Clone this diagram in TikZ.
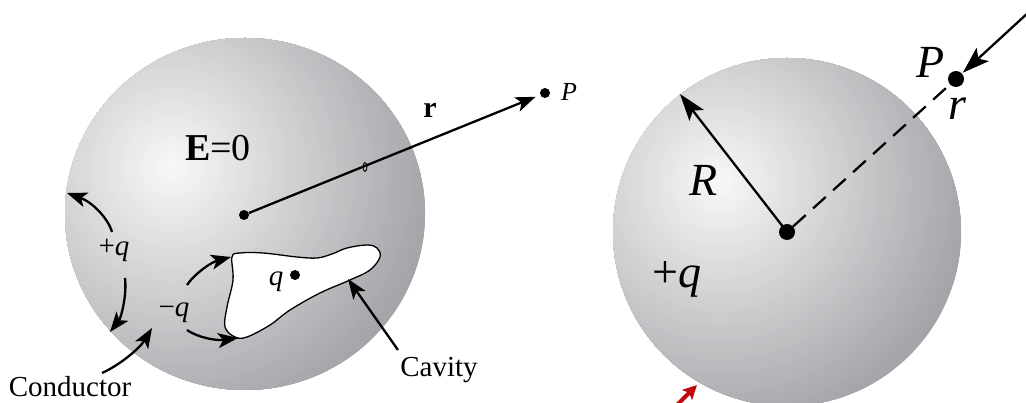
\documentclass[tikz,border=0pt]{standalone}
\usepackage{fontspec}
\setmainfont{Liberation Serif}
\usetikzlibrary{arrows.meta}
\definecolor{redarrow}{RGB}{190,10,10}
\tikzset{
  lab/.style={inner sep=0pt, font=\fontsize{29}{29}\selectfont},
  biglab/.style={inner sep=0pt, font=\fontsize{46}{46}\selectfont},
  arr/.style={line width=2.3pt, -{Stealth[length=20pt,width=15pt,inset=5pt]}},
  bigarr/.style={line width=2.3pt, -{Stealth[length=27pt,width=18pt,inset=6pt]}},
  dotS/.style={circle, fill=black, inner sep=0pt, minimum size=10pt},
  dotL/.style={circle, fill=black, inner sep=0pt, minimum size=16pt},
}
% manual radial gradient: #1 highlight point, #2 max distance
\newcommand{\myspheregrad}[2]{%
  \foreach \i in {0,...,70}{%
    \pgfmathsetmacro{\tt}{1-\i/70}%
    \pgfmathsetmacro{\dd}{#2*\tt}%
    \pgfmathsetmacro{\gg}{int(249-86*\tt)}%
    \pgfmathsetmacro{\bb}{int(249-81*\tt)}%
    \definecolor{tmpc}{RGB}{\gg,\gg,\bb}%
    \fill[tmpc] #1 circle [radius=\dd];%
  }%
}
\begin{document}
\begin{tikzpicture}[x=1pt,y=-1pt]
\useasboundingbox (0,0) rectangle (1026,403);
\clip (0,0) rectangle (1026,403);
% ---------- left sphere ----------
\begin{scope}
\clip (245,214) ellipse [x radius=180, y radius=176];
\myspheregrad{(172,167)}{268}
\end{scope}
% cavity
\draw[fill=white, line width=1.3pt] plot[smooth cycle, tension=0.6] coordinates {
 (232,257) (240,253) (263,253) (297,257) (317,258) (332,254) (347,248) (367,245)
 (377,248) (380,257) (370,270) (350,280) (320,293) (290,310) (270,325) (247,337)
 (235,337) (225,327) (227,307) (233,280)};
\node[dotS] (c1) at (244,215) {};
\node[dotS] (p1) at (545,93) {};
\node[dotS] (qd) at (295,275) {};
\draw[arr, shorten >=5pt] (c1) -- (p1);
\draw[line width=0.9pt] (365,167) ellipse [x radius=2, y radius=4.5];
\node[lab, font=\fontsize{38}{38}\selectfont] (E) at (218,148) {\textbf{E}=0};
\node[lab, font=\fontsize{30}{30}\selectfont] (rb) at (430,110) {\textbf{r}};
\node[lab, font=\fontsize{26}{26}\selectfont] (Pl) at (569,92) {\textit{P}};
\node[lab] (pq) at (114,250) {+\textit{q}};
\node[lab] (mq) at (174,313) {−\textit{q}};
\node[lab] (ql) at (276,282) {\textit{q}};
\node[lab] (cav) at (439,370) {Cavity};
\node[lab] (cond) at (70,387) {Conductor};
% curved arrows
\coordinate (a1s) at (112,232); \coordinate (a1e) at (67,193);
\draw[arr] (a1s) .. controls (108,218) and (92,202) .. (a1e);
\coordinate (a2s) at (125,278); \coordinate (a2e) at (110,332);
\draw[arr] (a2s) .. controls (127,296) and (121,318) .. (a2e);
\coordinate (a3s) at (102,373); \coordinate (a3e) at (152,328);
\draw[arr] (a3s) .. controls (120,365) and (140,348) .. (a3e);
\coordinate (a4s) at (187,285); \coordinate (a4e) at (231,257);
\draw[arr] (a4s) .. controls (195,273) and (212,262) .. (a4e);
\coordinate (a5s) at (187,330); \coordinate (a5e) at (238,338);
\draw[arr] (a5s) .. controls (197,337) and (215,341) .. (a5e);
\coordinate (a6s) at (398,350); \coordinate (a6e) at (348,279);
\draw[arr] (a6s) -- (a6e);
% ---------- right sphere ----------
\begin{scope}
\clip (787,232) circle [radius=174];
\myspheregrad{(720,183)}{258}
\end{scope}
\node[dotL] (c2) at (787,232) {};
\node[dotL] (p2) at (956,79) {};
\coordinate (Rtip) at (680,94);
\draw[bigarr] (c2.center) -- (Rtip);
\draw[line width=2.3pt, dash pattern=on 17pt off 10pt] (c2) -- (p2);
\coordinate (inS) at (1042,0);
\draw[bigarr, shorten >=1pt] (inS) -- (p2);
\node[biglab] (R) at (704,180) {\textit{R}};
\node[biglab] (pq2) at (677,279) {+\textit{q}};
\node[biglab] (P2) at (931,62) {\textit{P}};
\node[biglab] (r2) at (958,109) {\textit{r}};
% red arrow
\coordinate (rs) at (668,414); \coordinate (re) at (697,385);
\draw[redarrow, line width=4pt, -{Stealth[length=14pt,width=14pt,inset=3pt]}] (rs) -- (re);
\end{tikzpicture}
\end{document}
